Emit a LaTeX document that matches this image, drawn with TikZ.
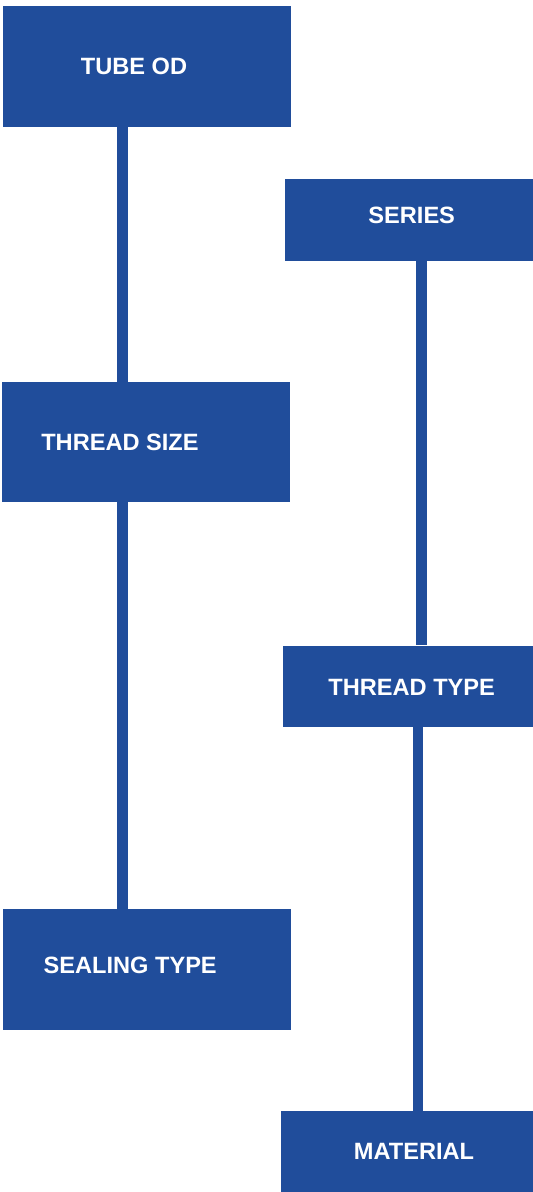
\documentclass[tikz,border=0pt]{standalone}
\usepackage{fontspec}
\setmainfont{Liberation Sans}
\usetikzlibrary{positioning}
\definecolor{brandblue}{RGB}{32,77,155}
\tikzset{
  box/.style={
    fill=brandblue,
    draw=none,
    inner sep=0pt
  },
  boxlabel/.style={
    text=white,
    font=\fontsize{23.6}{28}\selectfont\bfseries,
    inner sep=0pt
  },
  flow/.style={draw=brandblue,line width=11pt}
}

\begin{document}
\begin{tikzpicture}[x=1pt,y=1pt]
  \useasboundingbox (0,0) rectangle (533,-1192);

  % left column
  \node[box,minimum width=288pt,minimum height=121pt] (tubeod) at (147,-66.5) {};
  \node[box,minimum width=288pt,minimum height=120pt] (threadsize) at (146,-442) {};
  \node[box,minimum width=288pt,minimum height=121pt] (sealing) at (147,-969.5) {};

  % right column
  \node[box,minimum width=248pt,minimum height=81.7pt] (series) at (409,-219.8) {};
  \node[box,minimum width=250pt,minimum height=81pt] (threadtype) at (408,-686) {};
  \node[box,minimum width=252pt,minimum height=81pt] (material) at (407,-1151.5) {};

  \node[boxlabel] (tubeodtext) at ([xshift=-13pt,yshift=-0.2pt]tubeod.center) {TUBE OD};
  \node[boxlabel] (threadsizetext) at ([xshift=-26pt,yshift=-0.5pt]threadsize.center) {THREAD SIZE};
  \node[boxlabel] (sealingtext) at ([xshift=-16.8pt,yshift=4.2pt]sealing.center) {SEALING TYPE};
  \node[boxlabel] (seriestext) at ([xshift=2.7pt,yshift=4.3pt]series.center) {SERIES};
  \node[boxlabel] (threadtypetext) at ([xshift=3.7pt,yshift=-1.5pt]threadtype.center) {THREAD TYPE};
  \node[boxlabel] (materialtext) at ([xshift=7pt,yshift=0.5pt]material.center) {MATERIAL};

  \draw[flow] ([xshift=-24.7pt]tubeod.south) -- ([xshift=-23.7pt]threadsize.north);
  \draw[flow] ([xshift=-23.7pt]threadsize.south) -- ([xshift=-24.7pt]sealing.north);
  \draw[flow] ([xshift=12pt]series.south) -- ([xshift=13pt]threadtype.north);
  \draw[flow,line width=10.7pt] ([xshift=10pt]threadtype.south) -- ([xshift=11pt]material.north);
\end{tikzpicture}
\end{document}
